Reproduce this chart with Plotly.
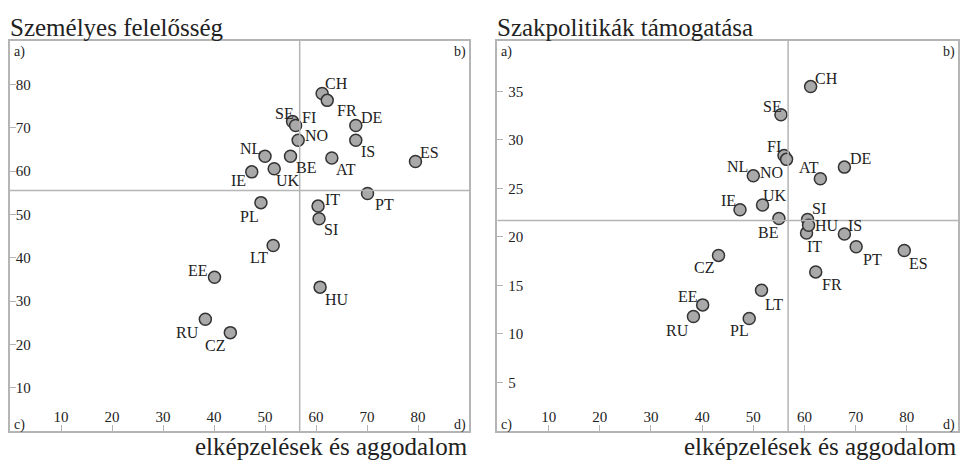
import plotly.graph_objects as go

# ---- data ----
countries = ["CH", "FR", "SE", "FI", "NO", "DE", "IS", "NL", "BE", "AT", "ES",
             "UK", "IE", "PT", "PL", "IT", "SI", "LT", "EE", "HU", "RU", "CZ"]
ideas_concern = [61.2, 62.2, 55.4, 56.0, 56.5, 67.8, 67.8, 50.0, 55.0, 63.1, 79.5,
                 51.8, 47.4, 70.1, 49.2, 60.4, 60.6, 51.6, 40.1, 60.8, 38.3, 43.2]
personal_resp = [77.9, 76.3, 71.4, 70.5, 67.1, 70.5, 67.1, 63.4, 63.4, 63.0, 62.2,
                 60.5, 59.8, 54.8, 52.7, 51.9, 49.0, 42.8, 35.5, 33.2, 25.8, 22.7]
policy_support = [35.5, 16.4, 32.6, 28.4, 28.0, 27.2, 20.3, 26.3, 21.9, 26.0, 18.6,
                  23.3, 22.8, 19.0, 11.6, 20.4, 21.8, 14.5, 13.0, 21.2, 11.8, 18.1]

x_ticks = [10, 20, 30, 40, 50, 60, 70, 80]
y_ticks_left = [10, 20, 30, 40, 50, 60, 70, 80]
y_ticks_right = [5, 10, 15, 20, 25, 30, 35]

x_ref_line = 56.8
y_ref_left = 55.5
y_ref_right = 21.7

title_left = "Személyes felelősség"
title_right = "Szakpolitikák támogatása"
x_title = "elképzelések és aggodalom"

# label offsets in pixels (dx right, dy down) -- styling only
off_left = {"CH": (14, -10), "FR": (20, 10), "SE": (-8, -8), "FI": (13, -8), "NO": (18, -5),
            "DE": (16, -8), "IS": (12, 11), "NL": (-15, -8), "BE": (15, 11), "AT": (14, 11),
            "ES": (14, -9), "UK": (14, 12), "IE": (-13, 9), "PT": (17, 11), "PL": (-11, 14),
            "IT": (14, -7), "SI": (12, 11), "LT": (-14, 12), "EE": (-17, -7), "HU": (17, 12),
            "RU": (-18, 13), "CZ": (-15, 13)}
off_right = {"CH": (16, -8), "FR": (16, 13), "SE": (-8, -8), "FI": (-10, -9), "NO": (-15, 13),
             "DE": (16, -9), "IS": (11, -9), "NL": (-16, -9), "BE": (-11, 14), "AT": (-11, -11),
             "ES": (14, 13), "UK": (12, -9), "IE": (-12, -9), "PT": (16, 13), "PL": (-10, 12),
             "IT": (8, 13), "SI": (11, -11), "LT": (12, 14), "EE": (-15, -8), "HU": (18, 0),
             "RU": (-16, 14), "CZ": (-15, 12)}

FONT = "Liberation Serif"
TXT = "#222222"
GRID = "#b5b5b5"

fig = go.Figure()
marker = dict(size=12, color="#a9a9a9", line=dict(color="#333333", width=1.5))
fig.add_trace(go.Scatter(x=ideas_concern, y=personal_resp, mode="markers", marker=marker,
                         xaxis="x", yaxis="y", showlegend=False, hoverinfo="text", text=countries))
fig.add_trace(go.Scatter(x=ideas_concern, y=policy_support, mode="markers", marker=marker,
                         xaxis="x2", yaxis="y2", showlegend=False, hoverinfo="text", text=countries))

annotations = []
for c, xv, yv in zip(countries, ideas_concern, personal_resp):
    dx, dy = off_left[c]
    annotations.append(dict(x=xv, y=yv, xref="x", yref="y", text=c, showarrow=False,
                            xshift=dx, yshift=-dy, font=dict(family=FONT, size=16, color=TXT)))
for c, xv, yv in zip(countries, ideas_concern, policy_support):
    dx, dy = off_right[c]
    annotations.append(dict(x=xv, y=yv, xref="x2", yref="y2", text=c, showarrow=False,
                            xshift=dx, yshift=-dy, font=dict(family=FONT, size=16, color=TXT)))

# corner labels
for xr, yr in (("x", "y"), ("x2", "y2")):
    for txt, xx, yy, xa, ya in (("a)", 0, 1, "left", "top"), ("b)", 1, 1, "right", "top"),
                                ("c)", 0, 0, "left", "bottom"), ("d)", 1, 0, "right", "bottom")):
        annotations.append(dict(x=xx, y=yy, xref=xr + " domain", yref=yr + " domain", text=txt,
                                showarrow=False, xanchor=xa, yanchor=ya,
                                xshift=2 if xa == "left" else -1, yshift=-1 if ya == "top" else -4,
                                font=dict(family=FONT, size=14, color=TXT)))

# titles
for xr, t in (("x", title_left), ("x2", title_right)):
    annotations.append(dict(x=0, y=1, xref=xr + " domain", yref="paper", text=t, showarrow=False,
                            xanchor="left", yanchor="bottom", xshift=-2, yshift=-2,
                            font=dict(family=FONT, size=25, color=TXT)))
    annotations.append(dict(x=1, y=0, xref=xr + " domain", yref="paper", text=x_title,
                            showarrow=False, xanchor="right", yanchor="top", xshift=1, yshift=0,
                            font=dict(family=FONT, size=25, color=TXT)))

shapes = []
for xr, yr, yline in (("x", "y", y_ref_left), ("x2", "y2", y_ref_right)):
    shapes.append(dict(type="line", xref=xr, yref=yr + " domain", x0=x_ref_line, x1=x_ref_line,
                       y0=0, y1=1, line=dict(color=GRID, width=1.5)))
    shapes.append(dict(type="line", xref=xr + " domain", yref=yr, x0=0, x1=1,
                       y0=yline, y1=yline, line=dict(color=GRID, width=1.5)))

axis_common = dict(showline=True, mirror=True, linecolor=GRID, linewidth=1.5, showgrid=False,
                   zeroline=False, ticks="inside", ticklen=6, tickcolor=GRID, tickwidth=1,
                   ticklabelposition="inside", tickfont=dict(family=FONT, size=15, color=TXT))

fig.update_layout(
    width=961, height=464,
    margin=dict(l=10, r=1, t=41, b=33),
    paper_bgcolor="white", plot_bgcolor="white",
    xaxis=dict(domain=[0, 0.4842], range=[0, 90], tickvals=x_ticks, anchor="y", **axis_common),
    yaxis=dict(domain=[0, 1], range=[0, 90], tickvals=y_ticks_left, anchor="x", **axis_common),
    xaxis2=dict(domain=[0.5142, 1], range=[0, 90], tickvals=x_ticks, anchor="y2", **axis_common),
    yaxis2=dict(domain=[0, 1], range=[0, 40.2], tickvals=y_ticks_right, anchor="x2",
                ticklabelstandoff=5, **axis_common),
    annotations=annotations,
    shapes=shapes,
    font=dict(family=FONT, color=TXT),
)

fig.write_html("out.html", config={"displayModeBar": False},
               post_script="document.body.style.margin='0';document.body.style.overflow='hidden';")
